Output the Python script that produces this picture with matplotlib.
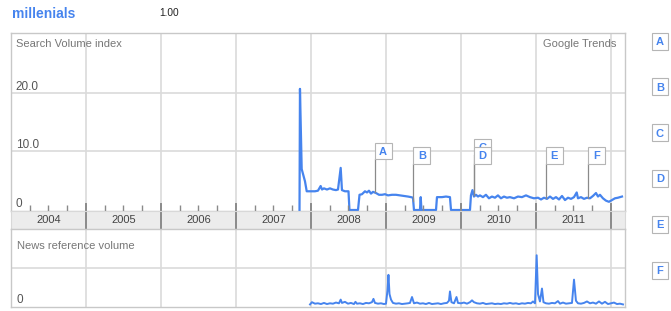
"""
Google Trends style chart: search volume and news reference volume for "millenials".
"""

import matplotlib.pyplot as plt
import numpy as np
from matplotlib.patches import Rectangle
from matplotlib.transforms import blended_transform_factory

plt.rcParams["font.family"] = ["Liberation Sans", "DejaVu Sans"]

TERM = "millenials"
SCALE_LABEL = "1.00"
YEARS = [2004, 2005, 2006, 2007, 2008, 2009, 2010, 2011]

# search volume index (decimal year, value)
SEARCH_DATES = [
    2007.847, 2007.853, 2007.876, 2007.92, 2007.943, 2007.987, 2008.053, 2008.093,
    2008.129, 2008.147, 2008.173, 2008.213, 2008.253, 2008.293, 2008.333, 2008.36,
    2008.396, 2008.413, 2008.453, 2008.50, 2008.513, 2008.627, 2008.647, 2008.68,
    2008.72, 2008.747, 2008.773, 2008.80, 2008.827, 2008.867, 2008.907, 2008.947,
    2008.987, 2009.027, 2009.08, 2009.133, 2009.187, 2009.24, 2009.293, 2009.333,
    2009.36, 2009.373, 2009.453, 2009.463, 2009.473, 2009.667, 2009.68, 2009.747,
    2009.80, 2009.853, 2009.867, 2010.12, 2010.133, 2010.153, 2010.173, 2010.20,
    2010.227, 2010.253, 2010.293, 2010.333, 2010.373, 2010.413, 2010.453, 2010.493,
    2010.533, 2010.573, 2010.613, 2010.653, 2010.707, 2010.76, 2010.813, 2010.867,
    2010.92, 2010.973, 2011.027, 2011.067, 2011.107, 2011.147, 2011.187, 2011.227,
    2011.267, 2011.307, 2011.347, 2011.387, 2011.427, 2011.467, 2011.507, 2011.543,
    2011.56, 2011.60, 2011.64, 2011.68, 2011.72, 2011.76, 2011.80, 2011.827,
    2011.853, 2011.893, 2011.933, 2011.973, 2012.013, 2012.053, 2012.093, 2012.147,
]
SEARCH_VALUES = [
    0.0, 20.7, 7.0, 4.9, 3.2, 3.2, 3.2, 3.3,
    4.1, 3.5, 3.7, 3.5, 3.7, 3.5, 3.4, 3.5,
    7.2, 3.4, 3.2, 3.2, 0.0, 0.0, 2.6, 2.7,
    3.2, 3.0, 3.3, 2.8, 3.1, 2.9, 2.6, 2.6,
    2.7, 2.5, 2.6, 2.6, 2.5, 2.4, 2.3, 2.2,
    2.1, 0.0, 0.0, 2.2, 0.0, 0.0, 2.2, 2.2,
    2.3, 2.2, 0.0, 0.0, 2.5, 3.4, 2.3, 2.6,
    2.3, 2.5, 2.2, 2.6, 2.0, 2.3, 2.1, 2.5,
    2.0, 2.3, 2.1, 2.2, 2.0, 2.3, 2.2, 2.5,
    2.2, 2.0, 2.1, 1.8, 2.1, 1.9, 2.3, 1.9,
    2.2, 1.8, 2.4, 1.7, 2.1, 1.9, 2.2, 3.0,
    2.0, 2.2, 1.9, 2.1, 2.0, 2.4, 2.9, 2.3,
    2.6, 2.0, 1.6, 1.4, 1.7, 2.0, 2.1, 2.3,
]

# news reference volume (decimal year, value relative to the grid line)
NEWS_DATES = [
    2007.987, 2008.013, 2008.053, 2008.093, 2008.133, 2008.173, 2008.213, 2008.253,
    2008.293, 2008.333, 2008.373, 2008.396, 2008.413, 2008.453, 2008.493, 2008.533,
    2008.573, 2008.593, 2008.613, 2008.653, 2008.693, 2008.733, 2008.773, 2008.813,
    2008.833, 2008.853, 2008.893, 2008.933, 2008.973, 2009.00, 2009.02, 2009.033,
    2009.047, 2009.067, 2009.093, 2009.133, 2009.173, 2009.213, 2009.253, 2009.293,
    2009.32, 2009.347, 2009.373, 2009.413, 2009.453, 2009.493, 2009.533, 2009.573,
    2009.613, 2009.653, 2009.693, 2009.733, 2009.773, 2009.813, 2009.84, 2009.853,
    2009.873, 2009.907, 2009.94, 2009.96, 2010.00, 2010.04, 2010.08, 2010.12,
    2010.147, 2010.173, 2010.213, 2010.253, 2010.293, 2010.333, 2010.373, 2010.413,
    2010.453, 2010.493, 2010.533, 2010.573, 2010.613, 2010.653, 2010.693, 2010.733,
    2010.773, 2010.813, 2010.853, 2010.893, 2010.933, 2010.96, 2010.987, 2011.009,
    2011.027, 2011.053, 2011.08, 2011.10, 2011.133, 2011.173, 2011.213, 2011.253,
    2011.293, 2011.32, 2011.36, 2011.40, 2011.44, 2011.48, 2011.507, 2011.533,
    2011.56, 2011.60, 2011.64, 2011.68, 2011.72, 2011.76, 2011.80, 2011.84,
    2011.88, 2011.92, 2011.96, 2012.00, 2012.04, 2012.08, 2012.12, 2012.16,
]
NEWS_VALUES = [
    0.02, 0.08, 0.04, 0.05, 0.03, 0.06, 0.03, 0.05,
    0.04, 0.07, 0.05, 0.15, 0.06, 0.09, 0.04, 0.06,
    0.03, 0.09, 0.04, 0.05, 0.03, 0.06, 0.05, 0.08,
    0.17, 0.06, 0.04, 0.05, 0.03, 0.04, 0.40, 0.82,
    0.30, 0.15, 0.06, 0.04, 0.05, 0.03, 0.04, 0.05,
    0.06, 0.22, 0.05, 0.07, 0.04, 0.05, 0.03, 0.06,
    0.03, 0.04, 0.05, 0.03, 0.05, 0.06, 0.12, 0.37,
    0.08, 0.05, 0.22, 0.06, 0.05, 0.07, 0.04, 0.08,
    0.13, 0.08, 0.05, 0.04, 0.06, 0.03, 0.04, 0.05,
    0.03, 0.04, 0.03, 0.05, 0.04, 0.06, 0.04, 0.05,
    0.03, 0.05, 0.04, 0.06, 0.05, 0.10, 0.05, 1.35,
    0.30, 0.10, 0.45, 0.08, 0.05, 0.04, 0.06, 0.05,
    0.11, 0.04, 0.07, 0.04, 0.05, 0.06, 0.69, 0.12,
    0.05, 0.04, 0.06, 0.10, 0.05, 0.07, 0.04, 0.10,
    0.04, 0.09, 0.03, 0.05, 0.07, 0.03, 0.04, 0.02,
]

FLAG_LETTERS = ["A", "B", "C", "D", "E", "F"]
FLAG_DATES = [2008.847, 2009.364, 2010.167, 2010.167, 2011.129, 2011.697]

BLUE = "#4684ee"
GRID = "#dadada"
FRAME = "#c8c8c8"
TEXT_GRAY = "#777777"
W, H = 671, 311
X_END = 2012.187


def px_rect(x0, y0, x1, y1):
    return [x0 / W, 1 - y1 / H, (x1 - x0) / W, (y1 - y0) / H]


def style_panel(ax, hlines):
    for spine in ax.spines.values():
        spine.set_edgecolor(FRAME)
        spine.set_linewidth(1.0)
    ax.set_xticks([])
    ax.set_yticks([])
    for yr in range(YEARS[1], 2013):
        ax.axvline(yr, color=GRID, linewidth=1.2, zorder=0)
    for y in hlines:
        ax.axhline(y, color=GRID, linewidth=1.2, zorder=0)


fig = plt.figure(figsize=(W / 100, H / 100), dpi=100)

ax_top = fig.add_axes(px_rect(11, 33, 625, 211))
ax_band = fig.add_axes(px_rect(11, 211, 625, 229))
ax_news = fig.add_axes(px_rect(11, 229, 625, 307))

for ax in (ax_top, ax_band, ax_news):
    ax.set_xlim(YEARS[0], X_END)

# --- search volume panel
ax_top.set_ylim(-0.17, 30.25)
style_panel(ax_top, [10, 20])
ax_top.plot(SEARCH_DATES, SEARCH_VALUES, color=BLUE, linewidth=1.6, zorder=3)

blend = blended_transform_factory(ax_top.transAxes, ax_top.transData)
for val, lab in [(20, "20.0"), (10, "10.0"), (0, "0")]:
    ax_top.annotate(lab, xy=(0, val), xycoords=blend, xytext=(3.5, 2.2),
                    textcoords="offset points", fontsize=8.5, color="#555555",
                    va="baseline", ha="left")

# annotation flags
flag_bottom = {"A": 8.7, "C": 9.4}
flag_w = 17 / 75.0
flag_h = 2.8
for i, (letter, date) in enumerate(zip(FLAG_LETTERS, FLAG_DATES)):
    bottom = flag_bottom.get(letter, 7.9)
    base = np.interp(date, SEARCH_DATES, SEARCH_VALUES)
    z = 5 + i
    ax_top.plot([date, date], [base, bottom], color="#8a8a8a", linewidth=0.9,
                zorder=z, clip_on=False)
    ax_top.add_patch(Rectangle((date + 0.012, bottom - 0.2), flag_w, flag_h,
                               facecolor="#d0d0d0", edgecolor="none", zorder=z))
    ax_top.add_patch(Rectangle((date, bottom), flag_w, flag_h, facecolor="white",
                               edgecolor="#b5b5b5", linewidth=0.8, zorder=z))
    ax_top.text(date + flag_w / 2, bottom + flag_h / 2 - 0.15, letter, color=BLUE,
                fontsize=8, fontweight="bold", ha="center", va="center", zorder=z)

# --- year band
ax_band.set_ylim(0, 1)
ax_band.set_facecolor("#ececec")
for spine in ax_band.spines.values():
    spine.set_edgecolor("#d8d8d8")
ax_band.set_yticks([])
ax_band.set_xticks([])
quarters = [y + q for y in YEARS for q in (0.25, 0.5, 0.75)]
ax_band.set_xticks(quarters, minor=True)
ax_band.tick_params(which="minor", top=True, bottom=True, direction="out",
                    length=4.5, width=1.0, color="#8a8a8a")
for yr in range(YEARS[1], 2013):
    ax_band.axvline(yr, ymin=-0.38, ymax=1.38, color="#8a8a8a", linewidth=1.4,
                    clip_on=False)
for yr in YEARS:
    ax_band.text(yr + 0.5, 0.5, str(yr), ha="center", va="center",
                 fontsize=8, color="#444444")

# --- news reference panel
ax_news.set_ylim(-0.05, 2.06)
style_panel(ax_news, [1.0])
ax_news.plot(NEWS_DATES, NEWS_VALUES, color=BLUE, linewidth=1.4, zorder=3)
blend_n = blended_transform_factory(ax_news.transAxes, ax_news.transData)
ax_news.annotate("0", xy=(0, 0), xycoords=blend_n, xytext=(4, 1.5),
                 textcoords="offset points", fontsize=8.5, color="#555555",
                 va="baseline", ha="left")

# --- text around the chart
fig.text(12 / W, 1 - 14 / H, TERM, color=BLUE, fontsize=10, fontweight="bold",
         va="center", ha="left")
fig.text(159 / W, 1 - 13 / H, SCALE_LABEL, color="#222222", fontsize=7.3,
         va="center", ha="left")
fig.text(16 / W, 1 - 44 / H, "Search Volume index", color=TEXT_GRAY, fontsize=8,
         va="center", ha="left")
fig.text(616 / W, 1 - 44 / H, "Google Trends", color=TEXT_GRAY, fontsize=8,
         va="center", ha="right")
fig.text(17 / W, 1 - 246 / H, "News reference volume", color=TEXT_GRAY, fontsize=8,
         va="center", ha="left")

# --- letter legend on the right
for i, letter in enumerate(FLAG_LETTERS):
    cy = 41 + 45.8 * i
    fig.patches.append(Rectangle((653 / W, 1 - (cy + 9.5) / H), 16 / W, 17 / H,
                                 transform=fig.transFigure, facecolor="#d0d0d0",
                                 edgecolor="none"))
    fig.patches.append(Rectangle((652 / W, 1 - (cy + 8.5) / H), 16 / W, 17 / H,
                                 transform=fig.transFigure, facecolor="white",
                                 edgecolor="#b5b5b5", linewidth=0.8))
    fig.text(660 / W, 1 - (cy + 1) / H, letter, color=BLUE, fontsize=8,
             fontweight="bold", ha="center", va="center")

fig.savefig("out.png", dpi=100)
